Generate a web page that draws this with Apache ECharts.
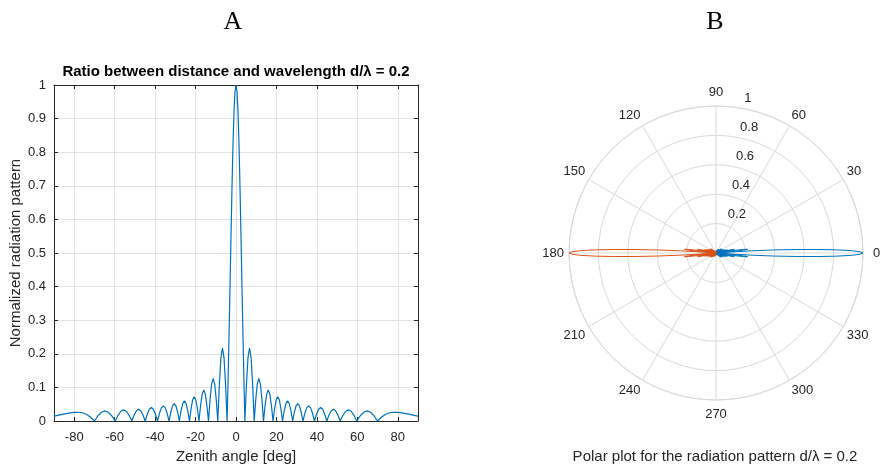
<!DOCTYPE html>
<html>
<head>
<meta charset="utf-8">
<script src="https://cdn.jsdelivr.net/npm/echarts@6/dist/echarts.min.js"></script>
<style>html,body{margin:0;padding:0;background:#fff;}#c{width:883px;height:470px;}</style>
</head>
<body>
<div id="c"></div>
<script>
// Zenith angle samples (deg)
const zenithAngle = [
  -90, -88, -86, -84, -82, -80, -78, -76, -74, -72,
  -70.0, -68.28, -66.57, -64.85, -63.13, -61.42,
  -59.7, -58.33, -56.97, -55.6, -54.23, -52.87,
  -51.5, -50.4, -49.3, -48.2, -47.1, -46.0,
  -44.9, -43.88, -42.87, -41.85, -40.83, -39.82,
  -38.8, -37.85, -36.9, -35.95, -35.0, -34.05,
  -33.1, -32.25, -31.4, -30.55, -29.7, -28.85,
  -28.0, -27.17, -26.33, -25.5, -24.67, -23.83,
  -23.0, -22.22, -21.43, -20.65, -19.87, -19.08,
  -18.3, -17.52, -16.73, -15.95, -15.17, -14.38,
  -13.6, -12.83, -12.07, -11.3, -10.53, -9.77,
  -9.0, -8.23, -7.47, -6.7, -5.93, -5.17,
  -4.4, -4, -3.5, -3, -2.5, -2, -1.5, -1, -0.5,
  0,
  0.5, 1, 1.5, 2, 2.5, 3, 3.5, 4, 4.4,
  5.17, 5.93, 6.7, 7.47, 8.23, 9.0,
  9.77, 10.53, 11.3, 12.07, 12.83, 13.6,
  14.38, 15.17, 15.95, 16.73, 17.52, 18.3,
  19.08, 19.87, 20.65, 21.43, 22.22, 23.0,
  23.83, 24.67, 25.5, 26.33, 27.17, 28.0,
  28.85, 29.7, 30.55, 31.4, 32.25, 33.1,
  34.05, 35.0, 35.95, 36.9, 37.85, 38.8,
  39.82, 40.83, 41.85, 42.87, 43.88, 44.9,
  46.0, 47.1, 48.2, 49.3, 50.4, 51.5,
  52.87, 54.23, 55.6, 56.97, 58.33, 59.7,
  61.42, 63.13, 64.85, 66.57, 68.28, 70.0,
  72, 74, 76, 78, 80, 82, 84, 86, 88, 90
];
// Normalized radiation pattern values
const radiation = [
  0.0145, 0.017, 0.0195, 0.022, 0.024, 0.0255, 0.026, 0.0245, 0.020, 0.012,
  0, 0.015, 0.026, 0.030, 0.026, 0.015,
  0, 0.017, 0.029, 0.033, 0.029, 0.017,
  0, 0.018, 0.030, 0.035, 0.030, 0.018,
  0, 0.020, 0.035, 0.040, 0.035, 0.020,
  0, 0.023, 0.039, 0.045, 0.039, 0.023,
  0, 0.026, 0.045, 0.052, 0.045, 0.026,
  0, 0.030, 0.052, 0.060, 0.052, 0.030,
  0, 0.036, 0.063, 0.072, 0.063, 0.036,
  0, 0.046, 0.080, 0.092, 0.080, 0.046,
  0, 0.064, 0.110, 0.127, 0.110, 0.064,
  0, 0.109, 0.189, 0.217, 0.189, 0.109,
  0, 0.10, 0.24, 0.39, 0.54, 0.69, 0.82, 0.92, 0.98,
  1,
  0.98, 0.92, 0.82, 0.69, 0.54, 0.39, 0.24, 0.10, 0,
  0.109, 0.189, 0.217, 0.189, 0.109, 0,
  0.064, 0.110, 0.127, 0.110, 0.064, 0,
  0.046, 0.080, 0.092, 0.080, 0.046, 0,
  0.036, 0.063, 0.072, 0.063, 0.036, 0,
  0.030, 0.052, 0.060, 0.052, 0.030, 0,
  0.026, 0.045, 0.052, 0.045, 0.026, 0,
  0.023, 0.039, 0.045, 0.039, 0.023, 0,
  0.020, 0.035, 0.040, 0.035, 0.020, 0,
  0.018, 0.030, 0.035, 0.030, 0.018, 0,
  0.017, 0.029, 0.033, 0.029, 0.017, 0,
  0.015, 0.026, 0.030, 0.026, 0.015, 0,
  0.012, 0.020, 0.0245, 0.026, 0.0255, 0.024, 0.022, 0.0195, 0.017, 0.0145
];
const xTicks = [-80, -60, -40, -20, 0, 20, 40, 60, 80];
const yTicks = [0, 0.1, 0.2, 0.3, 0.4, 0.5, 0.6, 0.7, 0.8, 0.9, 1];
const angleTicks = [0, 30, 60, 90, 120, 150, 180, 210, 240, 270, 300, 330];
const radiusTicks = [0.2, 0.4, 0.6, 0.8, 1];

const AX = '#262626';
const GRID = '#e3e3e3';
const PGRID = '#d9d9d9';
const FONT = 'Liberation Sans, Arial, Helvetica, sans-serif';

const chart = echarts.init(document.getElementById('c'), null, {renderer: 'canvas'});

function xAxisDef(pos, labels) {
  return {
    type: 'value', position: pos, min: -90, max: 90, interval: 10, gridIndex: 0,
    axisLine: {show: true, onZero: false, lineStyle: {color: AX, width: 1}},
    axisTick: {show: true, inside: true, length: 4, customValues: xTicks, lineStyle: {color: AX}},
    axisLabel: {show: labels, customValues: xTicks, color: AX, fontSize: 13, fontFamily: FONT, margin: 10},
    splitLine: {show: labels, lineStyle: {color: GRID, width: 1}},
    name: labels ? 'Zenith angle [deg]' : '', nameLocation: 'middle', nameGap: 28,
    nameTextStyle: {color: AX, fontSize: 15, fontFamily: FONT}
  };
}
function yAxisDef(pos, labels) {
  return {
    type: 'value', position: pos, min: 0, max: 1, interval: 0.1, gridIndex: 0,
    axisLine: {show: true, onZero: false, lineStyle: {color: AX, width: 1}},
    axisTick: {show: true, inside: true, length: 4, customValues: yTicks, lineStyle: {color: AX}},
    axisLabel: {show: labels, customValues: yTicks, color: AX, fontSize: 13, fontFamily: FONT, margin: 8,
      formatter: v => String(Math.round(v * 10) / 10)},
    splitLine: {show: labels, lineStyle: {color: GRID, width: 1}},
    name: labels ? 'Normalized radiation pattern' : '', nameLocation: 'middle', nameGap: 31,
    nameTextStyle: {color: AX, fontSize: 15, fontFamily: FONT}
  };
}

const lblBase = {color: AX, fontSize: 13, fontFamily: FONT};
const angleRich = {
  n: Object.assign({}, lblBase),
  r: Object.assign({padding: [0, 0, 0, 6]}, lblBase),
  l: Object.assign({padding: [0, 1, 0, 0]}, lblBase),
  t: Object.assign({padding: [0, 0, 3, 0]}, lblBase),
  b: Object.assign({padding: [4, 0, 0, 0]}, lblBase)
};
function angleLabel(v) {
  if (angleTicks.indexOf(v) < 0) return '';
  const key = v === 0 ? 'r' : v === 180 ? 'l' : v === 90 ? 't' : v === 270 ? 'b' : 'n';
  return '{' + key + '|' + v + '}';
}

const option = {
  animation: false,
  backgroundColor: '#fff',
  title: [
    {text: 'A', left: 233, top: 9, textAlign: 'center', padding: 0,
      textStyle: {fontFamily: 'Liberation Serif, Times New Roman, serif', fontSize: 26, fontWeight: 'normal', color: '#000'}},
    {text: 'B', left: 715, top: 9, textAlign: 'center', padding: 0,
      textStyle: {fontFamily: 'Liberation Serif, Times New Roman, serif', fontSize: 26, fontWeight: 'normal', color: '#000'}},
    {text: 'Ratio between distance and wavelength d/λ = 0.2', left: 236, top: 64, textAlign: 'center', padding: 0,
      textStyle: {fontFamily: FONT, fontSize: 15, fontWeight: 'bold', color: '#000'}},
    {text: 'Polar plot for the radiation pattern d/λ = 0.2', left: 715, top: 449, textAlign: 'center', padding: 0,
      textStyle: {fontFamily: FONT, fontSize: 15, fontWeight: 'normal', color: AX}}
  ],
  grid: [{left: 54, right: 465, top: 85, bottom: 49, containLabel: false}],
  xAxis: [xAxisDef('bottom', true), xAxisDef('top', false)],
  yAxis: [yAxisDef('left', true), yAxisDef('right', false)],
  polar: [
    {center: [716, 253], radius: 147},
    {center: [723.7, 243.5], radius: 147}
  ],
  angleAxis: [
    {polarIndex: 0, type: 'value', min: 0, max: 360, interval: 30, startAngle: 0, clockwise: false,
      axisLine: {show: true, lineStyle: {color: PGRID, width: 1}},
      axisTick: {show: false},
      axisLabel: {show: true, color: AX, fontSize: 13, fontFamily: FONT, margin: 4,
        formatter: angleLabel, rich: angleRich},
      splitLine: {show: true, lineStyle: {color: PGRID, width: 1}}
    },
    {polarIndex: 1, type: 'value', min: 0, max: 360, interval: 30, startAngle: 82, clockwise: false,
      axisLine: {show: false}, axisTick: {show: false}, axisLabel: {show: false}, splitLine: {show: false}
    }
  ],
  radiusAxis: [
    {polarIndex: 0, type: 'value', min: 0, max: 1, interval: 0.2,
      axisLine: {show: false}, axisTick: {show: false}, axisLabel: {show: false},
      splitLine: {show: true, lineStyle: {color: PGRID, width: 1}}
    },
    {polarIndex: 1, type: 'value', min: 0, max: 1, interval: 0.2,
      axisLine: {show: false}, axisTick: {show: false}, splitLine: {show: false},
      axisLabel: {show: true, color: AX, fontSize: 13, fontFamily: FONT, margin: 0,
        align: 'left', verticalAlign: 'middle',
        formatter: v => {
          const r = Math.round(v * 10) / 10;
          return radiusTicks.indexOf(r) >= 0 ? String(r) : '';
        }}
    }
  ],
  series: [
    {type: 'line', xAxisIndex: 0, yAxisIndex: 0, showSymbol: false, symbol: 'none',
      data: zenithAngle.map((a, i) => [a, radiation[i]]),
      lineStyle: {color: '#0072BD', width: 1.2}, z: 5},
    {type: 'line', coordinateSystem: 'polar', polarIndex: 0, showSymbol: false, symbol: 'none',
      data: zenithAngle.map((a, i) => [radiation[i], a]),
      lineStyle: {color: '#0072BD', width: 1}, z: 5},
    {type: 'line', coordinateSystem: 'polar', polarIndex: 0, showSymbol: false, symbol: 'none',
      data: zenithAngle.map((a, i) => [radiation[i], 180 + a]),
      lineStyle: {color: '#D95319', width: 1}, z: 5}
  ]
};
chart.setOption(option);
</script>
</body>
</html>
